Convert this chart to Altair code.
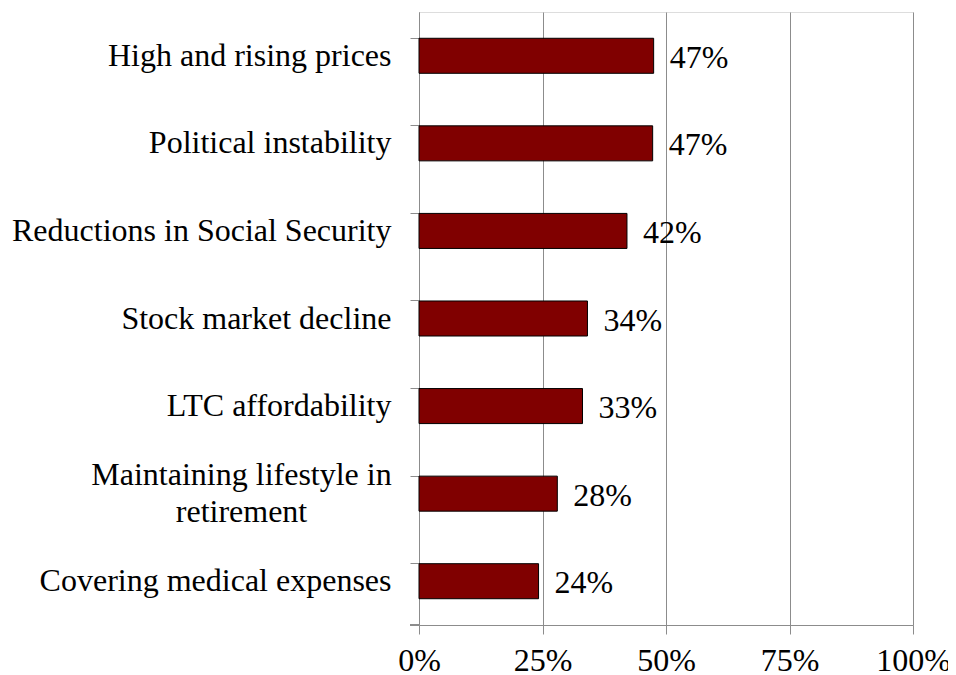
import altair as alt
import pandas as pd

categories = [
    "High and rising prices",
    "Political instability",
    "Reductions in Social Security",
    "Stock market decline",
    "LTC affordability",
    "Maintaining lifestyle in|retirement",
    "Covering medical expenses",
]
values = [0.475, 0.473, 0.421, 0.341, 0.331, 0.280, 0.242]
labels = ["47%", "47%", "42%", "34%", "33%", "28%", "24%"]
x_ticks = [0, 0.25, 0.5, 0.75, 1.0]

df = pd.DataFrame({"cat": categories, "value": values, "label": labels})

FONT = "Liberation Serif"
FS = 32
GRAY = "#8c8c8c"
W, H = 494, 613
MULTI = "indexof(datum.value, '|') >= 0"

y_enc = alt.Y(
    "cat:N",
    sort=categories,
    scale=alt.Scale(paddingInner=0.6, paddingOuter=0.3),
    axis=alt.Axis(
        title=None,
        bandPosition=0,
        tickSize=9,
        tickColor=GRAY,
        domainColor=GRAY,
        labelPadding={"condition": {"test": MULTI, "value": 169}, "value": 19},
        labelAlign={"condition": {"test": MULTI, "value": "center"}, "value": "right"},
        labelOffset={"condition": {"test": MULTI, "value": -18.5}, "value": 0},
        labelFont=FONT,
        labelFontSize=FS,
        labelColor="black",
        labelLineHeight=37,
        labelExpr="split(datum.label, '|')",
        labelLimit=600,
        grid=False,
    ),
)

x_enc = alt.X(
    "value:Q",
    scale=alt.Scale(domain=[0, 1]),
    axis=alt.Axis(
        title=None,
        values=x_ticks,
        format=".0%",
        tickSize=9,
        tickColor=GRAY,
        domainColor=GRAY,
        gridColor=GRAY,
        grid=True,
        labelPadding=11,
        labelFont=FONT,
        labelFontSize=FS,
        labelColor="black",
        labelFlush=False,
        labelOverlap=False,
    ),
)

bars = alt.Chart(df).mark_bar(
    color="#800000", stroke="black", strokeWidth=1
).encode(x=x_enc, y=y_enc)

text = alt.Chart(df).mark_text(
    align="left", baseline="middle", dx=16, dy=2, font=FONT, fontSize=FS, color="black"
).encode(x="value:Q", y=alt.Y("cat:N", sort=categories), text="label:N")

bottom_tick = alt.Chart(df).mark_rule(color=GRAY).encode(
    x=alt.value(-9), x2=alt.value(0), y=alt.value(H)
)

chart = (
    alt.layer(bars, text, bottom_tick)
    .properties(
        width=W,
        height=H,
        autosize=alt.AutoSizeParams(type="none"),
        padding={"left": 411, "top": 4, "right": 35, "bottom": 50},
    )
    .configure_view(stroke=GRAY)
    .configure(background="white")
)

chart.save("out.html", embed_options={"renderer": "svg", "actions": False})
